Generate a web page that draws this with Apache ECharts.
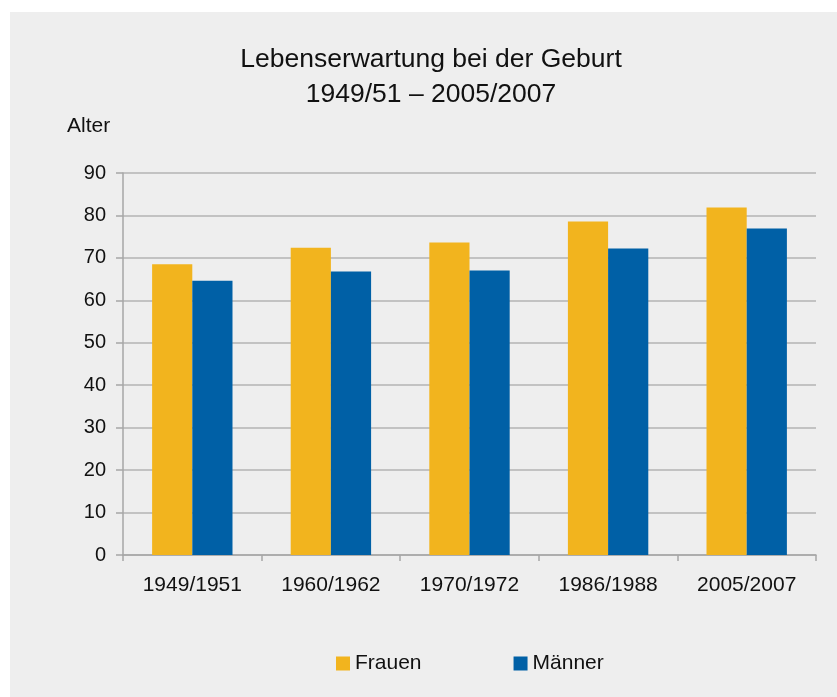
<!DOCTYPE html>
<html>
<head>
    <meta charset="utf-8">
    <title>Lebenserwartung</title>
    <script src="https://cdn.jsdelivr.net/npm/echarts@6/dist/echarts.min.js"></script>
    <style>
        * { margin: 0; padding: 0; }
        body, html { background: #ffffff; }
        #bg {
            position: absolute;
            left: 10px; top: 12px;
            width: 827px; height: 685px;
            background: #eeeeee;
        }
        #main {
            position: absolute;
            left: 0; top: 0;
            width: 837px;
            height: 697px;
        }
    </style>
</head>
<body>
<div id="bg"></div>
<div id="main"></div>
<script>
    var categories = ['1949/1951', '1960/1962', '1970/1972', '1986/1988', '2005/2007'];
    var frauen = [68.5, 72.4, 73.6, 78.6, 81.9];
    var maenner = [64.6, 66.8, 67.0, 72.2, 76.9];
    var titleLines = ['Lebenserwartung bei der Geburt', '1949/51 \u2013 2005/2007'];
    var font = 'Liberation Sans, Arial, sans-serif';

    var chart = echarts.init(document.getElementById('main'));
    var option = {
        backgroundColor: 'transparent',
        textStyle: { fontFamily: font },
        title: {
            text: 'Alter',
            left: 62,
            top: 111,
            textStyle: { fontFamily: font, fontSize: 21, fontWeight: 'normal', color: '#111' }
        },
        graphic: [
            { type: 'text', x: 431, y: 60,
              style: { text: titleLines[0], fontFamily: font, fontSize: 26.5, fill: '#111', textAlign: 'center', textVerticalAlign: 'middle' } },
            { type: 'text', x: 431, y: 95,
              style: { text: titleLines[1], fontFamily: font, fontSize: 26.5, fill: '#111', textAlign: 'center', textVerticalAlign: 'middle' } }
        ],
        legend: {
            top: 648,
            left: 331,
            itemWidth: 14,
            itemHeight: 14,
            itemGap: 92,
            icon: 'rect',
            textStyle: { fontFamily: font, fontSize: 21, color: '#111' },
            data: ['Frauen', 'Männer']
        },
        grid: { left: 123, right: 21, top: 173, bottom: 142 },
        xAxis: {
            type: 'category',
            data: categories,
            axisLine: { lineStyle: { color: '#a6a6a6', width: 1.5 } },
            axisTick: { show: true, length: 6, lineStyle: { color: '#a6a6a6', width: 1.5 } },
            axisLabel: { fontSize: 21, color: '#111', margin: 20 }
        },
        yAxis: {
            type: 'value',
            min: 0, max: 90, interval: 10,
            axisLine: { show: true, lineStyle: { color: '#a6a6a6', width: 1.5 } },
            axisTick: { show: true, length: 7, lineStyle: { color: '#a6a6a6', width: 1.5 } },
            axisLabel: { fontSize: 20, color: '#111', margin: 17 },
            splitLine: { lineStyle: { color: '#b3b3b3', width: 1.5 } }
        },
        series: [
            { name: 'Frauen', type: 'bar', data: frauen, barGap: 0, barCategoryGap: '42%',
              itemStyle: { color: '#f2b41e' } },
            { name: 'Männer', type: 'bar', data: maenner,
              itemStyle: { color: '#0060a6' } }
        ]
    };
    chart.setOption(option);
</script>
</body>
</html>
